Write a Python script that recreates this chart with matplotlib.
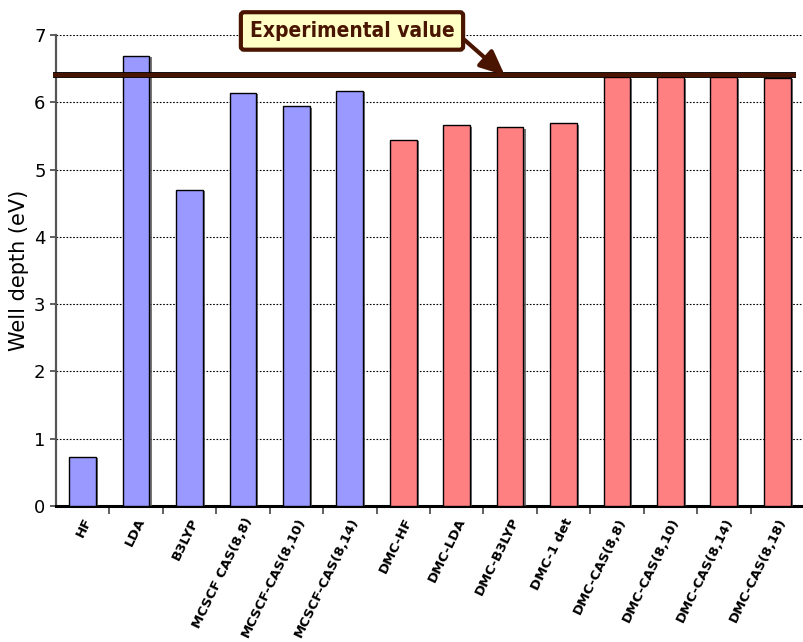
import matplotlib
matplotlib.use("Agg")
import matplotlib.pyplot as plt
import matplotlib.patheffects as pe
import numpy as np

# Well depths (eV) per method
methods = ["HF", "LDA", "B3LYP", "MCSCF CAS(8,8)", "MCSCF-CAS(8,10)",
           "MCSCF-CAS(8,14)", "DMC-HF", "DMC-LDA", "DMC-B3LYP", "DMC-1 det",
           "DMC-CAS(8,8)", "DMC-CAS(8,10)", "DMC-CAS(8,14)", "DMC-CAS(8,18)"]
depths = [0.73, 6.69, 4.70, 6.14, 5.94, 6.17, 5.44, 5.66, 5.63, 5.69,
          6.37, 6.37, 6.37, 6.36]
is_dmc = [m.startswith("DMC") for m in methods]
experimental = 6.40

blue = "#9999ff"
red = "#ff8080"
brown = "#4a1500"

fig = plt.figure(figsize=(8.04, 6.42), dpi=100)
ax = fig.add_axes([56 / 804, 1 - 506 / 642, 748 / 804, 471 / 642])

x = np.arange(len(methods))
colors = [red if d else blue for d in is_dmc]
bars = ax.bar(x, depths, width=0.5, color=colors, edgecolor="black",
              linewidth=1.0, zorder=3)
for b in bars:
    b.set_path_effects([pe.SimplePatchShadow(offset=(1.5, -1), shadow_rgbFace="#555555", alpha=0.8),
                        pe.Normal()])

ax.set_xlim(-0.5, len(methods) - 0.5)
ax.set_ylim(0, 7)

# dotted grid across the plot
ax.set_yticks(range(0, 8))
ax.yaxis.grid(True, linestyle=(0, (1.5, 1.5)), color="black", linewidth=0.8, zorder=1)
ax.set_axisbelow(True)

# category labels between the boundary ticks
ax.set_xticks(np.arange(0.5, len(methods) - 0.5), minor=False)
ax.set_xticklabels([])
ax.set_xticks(x, minor=True)
ax.set_xticklabels(methods, minor=True, rotation=64, ha="right",
                   rotation_mode="anchor", fontsize=9.5, fontweight="bold")
ax.tick_params(axis="x", which="minor", length=0, pad=7)
ax.tick_params(axis="x", which="major", length=6, width=1.2, color="#444444")
ax.tick_params(axis="y", length=4, width=1.2, color="#444444", labelsize=13)

for s in ["top", "right"]:
    ax.spines[s].set_visible(False)
ax.spines["left"].set_color("#555555")
ax.spines["left"].set_linewidth(1.6)
ax.spines["bottom"].set_linestyle((0, (1.5, 1)))
ax.spines["bottom"].set_linewidth(2.2)
ax.spines["bottom"].set_color("black")

ax.set_ylabel("Well depth (eV)", fontsize=15, labelpad=4)

# experimental reference line
ax.plot([-0.55, 13.35], [experimental, experimental], color=brown, lw=3.0,
        solid_capstyle="butt", clip_on=False, zorder=5,
        path_effects=[pe.Stroke(linewidth=4.2, foreground="black"), pe.Normal()])

ax.annotate("Experimental value", xy=(7.9, experimental), xytext=(5.04, 7.06),
            textcoords="data", ha="center", va="center", fontsize=15,
            fontweight="bold", fontstretch="condensed", color=brown,
            family=["DejaVu Sans"],
            annotation_clip=False, zorder=6,
            bbox=dict(boxstyle="round,pad=0.42,rounding_size=0.15",
                      fc="#ffffc6", ec=brown, lw=3),
            arrowprops=dict(arrowstyle="-|>,head_length=1.0,head_width=0.45",
                            color=brown, lw=3, shrinkA=0, shrinkB=0,
                            relpos=(1.0, 0.5)))

fig.savefig("out.png", dpi=100)
